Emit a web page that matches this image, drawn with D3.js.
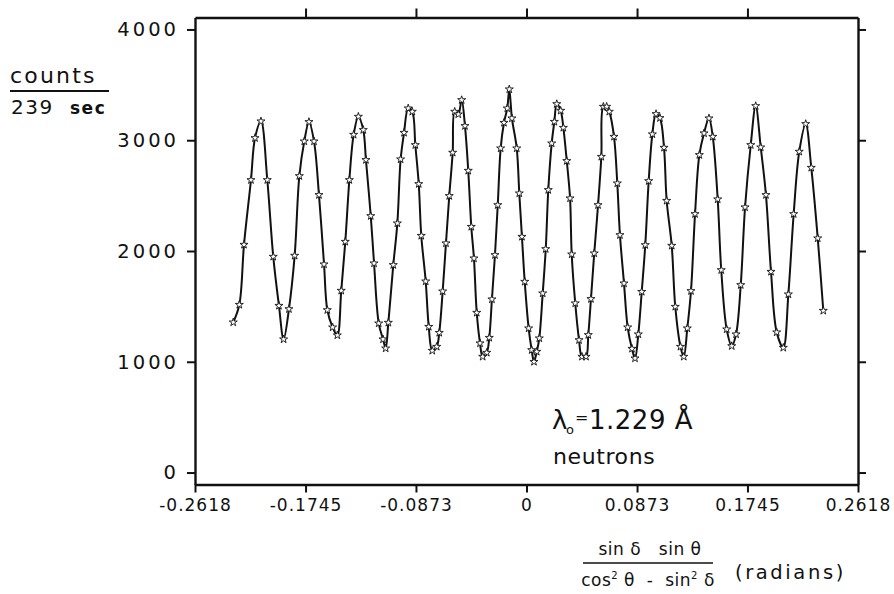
<!DOCTYPE html>
<html>
<head>
<meta charset="utf-8">
<script src="https://cdn.jsdelivr.net/npm/d3@7"></script>
<style>
  html, body { margin: 0; padding: 0; background: #fff; }
  svg { display: block; }
  text { font-family: "DejaVu Sans", sans-serif; fill: #111; white-space: pre; }
</style>
</head>
<body>
<svg id="chart" width="894" height="594"></svg>
<script>
// ---- data ----
const xTicks = [-0.2618, -0.1745, -0.0873, 0, 0.0873, 0.1745, 0.2618];
const xTickLabels = ["-0.2618", "-0.1745", "-0.0873", "0", "0.0873", "0.1745", "0.2618"];
const yTicks = [0, 1000, 2000, 3000, 4000];
const yTickLabels = ["0", "1000", "2000", "3000", "4000"];

const phase = [
  -0.2316, -0.2268, -0.2231, -0.2176, -0.2144, -0.2097, -0.2047, -0.2000, -0.1955, -0.1918,
  -0.1876, -0.1831, -0.1794, -0.1755, -0.1718, -0.1678, -0.1639, -0.1599, -0.1573, -0.1531,
  -0.1494, -0.1463, -0.1431, -0.1399, -0.1365, -0.1328, -0.1289, -0.1268, -0.1230, -0.1204,
  -0.1167, -0.1133, -0.1112, -0.1091, -0.1052, -0.1020, -0.0994, -0.0967, -0.0934, -0.0902,
  -0.0878, -0.0851, -0.0831, -0.0796, -0.0772, -0.0744, -0.0709, -0.0689, -0.0662, -0.0636,
  -0.0610, -0.0583, -0.0567, -0.0539, -0.0512, -0.0486, -0.0460, -0.0436, -0.0415, -0.0393,
  -0.0367, -0.0346, -0.0314, -0.0294, -0.0273, -0.0249, -0.0227, -0.0204, -0.0178, -0.0152,
  -0.0136, -0.0115, -0.0077, -0.0057, -0.0036, -0.0014, 0.0017, 0.0041, 0.0059, 0.0081,
  0.0101, 0.0128, 0.0152, 0.0172, 0.0199, 0.0220, 0.0239, 0.0270, 0.0291, 0.0318,
  0.0344, 0.0357, 0.0385, 0.0415, 0.0438, 0.0470, 0.0488, 0.0509, 0.0535, 0.0565,
  0.0591, 0.0607, 0.0633, 0.0654, 0.0691, 0.0717, 0.0738, 0.0770, 0.0799, 0.0833,
  0.0857, 0.0883, 0.0910, 0.0938, 0.0965, 0.0994, 0.1023, 0.1054, 0.1086, 0.1107,
  0.1147, 0.1175, 0.1216, 0.1242, 0.1270, 0.1299, 0.1331, 0.1365, 0.1402, 0.1441,
  0.1471, 0.1510, 0.1538, 0.1581, 0.1621, 0.1655, 0.1692, 0.1726, 0.1771, 0.1810,
  0.1850, 0.1891, 0.1931, 0.1976, 0.2028, 0.2068, 0.2110, 0.2154, 0.2205, 0.2249,
  0.2300, 0.2344
];
const counts = [
  1356, 1515, 2057, 2641, 3020, 3171, 2641, 1949, 1506, 1203,
  1476, 1958, 2677, 2990, 3165, 2990, 2506, 1880, 1467, 1311,
  1239, 1642, 2084, 2641, 3050, 3213, 3093, 2822, 2316, 1889,
  1347, 1203, 1121, 1353, 1874, 2250, 2828, 3068, 3288, 3258,
  2957, 2605, 2138, 1726, 1316, 1100, 1136, 1262, 1636, 2070,
  2497, 2888, 3258, 3234, 3363, 3129, 2725, 2219, 1934, 1443,
  1167, 1046, 1082, 1217, 1564, 1964, 2415, 2927, 3158, 3288,
  3460, 3198, 2927, 2521, 2129, 1723, 1302, 1106, 1000, 1091,
  1212, 1618, 2018, 2551, 2972, 3167, 3327, 3267, 3113, 2813,
  2476, 1970, 1528, 1196, 1046, 1046, 1242, 1567, 1979, 2415,
  2851, 3303, 3303, 3258, 3032, 2611, 2144, 1708, 1311, 1118,
  1031, 1248, 1632, 2054, 2632, 3054, 3237, 3201, 2933, 2454,
  2048, 1497, 1136, 1046, 1302, 1639, 2334, 2867, 3063, 3198,
  3032, 2467, 1828, 1293, 1142, 1248, 1693, 2395, 2957, 3309,
  2936, 2506, 1813, 1266, 1127, 1609, 2334, 2897, 3147, 2752,
  2115, 1461
];

// ---- chart ----
const svg = d3.select("#chart");
const x = d3.scaleLinear().domain([-0.2618, 0.2618]).range([195, 858]);
const y = d3.scaleLinear().domain([-108, 4108]).range([484.5, 17.5]);

function styleAxis(g, fs, ls) {
  g.select(".domain").attr("stroke", "#111").attr("stroke-width", 2.4);
  g.selectAll(".tick line").attr("stroke", "#111").attr("stroke-width", 2);
  g.selectAll(".tick text").attr("font-size", fs).attr("letter-spacing", ls)
    .attr("font-family", "DejaVu Sans, sans-serif").attr("fill", "#000");
}

const gB = svg.append("g").attr("transform", "translate(0,484.5)")
  .call(d3.axisBottom(x).tickValues(xTicks).tickFormat((d, i) => xTickLabels[i])
    .tickSize(8).tickPadding(6).tickSizeOuter(0));
styleAxis(gB, 17, "1px");

const gT = svg.append("g").attr("transform", "translate(0,17.5)")
  .call(d3.axisTop(x).tickValues(xTicks.slice(1, -1)).tickFormat("")
    .tickSize(9).tickSizeOuter(0));
styleAxis(gT, 17, "0px");

const gL = svg.append("g").attr("transform", "translate(195,0)")
  .call(d3.axisLeft(y).tickValues(yTicks).tickFormat((d, i) => yTickLabels[i])
    .tickSize(8).tickPadding(8).tickSizeOuter(0));
styleAxis(gL, 19.5, "3px");

const gR = svg.append("g").attr("transform", "translate(858,0)")
  .call(d3.axisRight(y).tickValues(yTicks).tickFormat("")
    .tickSize(8).tickSizeOuter(0));
styleAxis(gR, 17, "0px");

// curve
const pts = phase.map((p, i) => [p, counts[i]]);
const line = d3.line().x(d => x(d[0])).y(d => y(d[1])).curve(d3.curveCatmullRom.alpha(0.5));
svg.append("path").datum(pts).attr("d", line)
  .attr("fill", "none").attr("stroke", "#111").attr("stroke-width", 2);

// star markers
const star = d3.symbol().type(d3.symbolStar).size(20);
svg.append("g").selectAll("path").data(pts).join("path")
  .attr("transform", d => `translate(${x(d[0])},${y(d[1])})`)
  .attr("d", star).attr("fill", "#fff").attr("stroke", "#111").attr("stroke-width", 0.9);

// y-axis title
svg.append("text").attr("x", 10).attr("y", 83).attr("font-size", 22)
  .attr("letter-spacing", "2.2px").text("counts");
svg.append("line").attr("x1", 10).attr("x2", 109).attr("y1", 91).attr("y2", 91)
  .attr("stroke", "#111").attr("stroke-width", 2);
svg.append("text").attr("x", 11).attr("y", 114).attr("font-size", 20)
  .attr("letter-spacing", "1.5px").text("239");
svg.append("text").attr("x", 70).attr("y", 114).attr("font-size", 17)
  .attr("font-weight", "bold").attr("letter-spacing", "1.5px").text("sec");

// annotation
svg.append("text").attr("x", 552).attr("y", 429).attr("font-size", 26).text("λ");
svg.append("text").attr("x", 566).attr("y", 434).attr("font-size", 13).text("o");
svg.append("text").attr("x", 575).attr("y", 423).attr("font-size", 16).text("=");
svg.append("text").attr("x", 589).attr("y", 429).attr("font-size", 26)
  .attr("letter-spacing", "0.5px").text("1.229 Å");
svg.append("text").attr("x", 553).attr("y", 464).attr("font-size", 22)
  .attr("letter-spacing", "0.6px").text("neutrons");

// x-axis title (fraction)
svg.append("text").attr("x", 650).attr("y", 555).attr("font-size", 17)
  .attr("text-anchor", "middle").attr("letter-spacing", "0.5px").text("sin δ   sin θ");
svg.append("line").attr("x1", 583).attr("x2", 713).attr("y1", 563).attr("y2", 563)
  .attr("stroke", "#111").attr("stroke-width", 1.6);
const den = svg.append("text").attr("x", 648).attr("y", 586).attr("font-size", 17)
  .attr("text-anchor", "middle").attr("letter-spacing", "0.5px");
den.append("tspan").text("cos");
den.append("tspan").attr("font-size", 10).attr("dy", -7).text("2");
den.append("tspan").attr("dy", 7).text(" θ  -  sin");
den.append("tspan").attr("font-size", 10).attr("dy", -7).text("2");
den.append("tspan").attr("dy", 7).text(" δ");
svg.append("text").attr("x", 735).attr("y", 579).attr("font-size", 19.5)
  .attr("letter-spacing", "2.6px").text("(radians)");
</script>
</body>
</html>
